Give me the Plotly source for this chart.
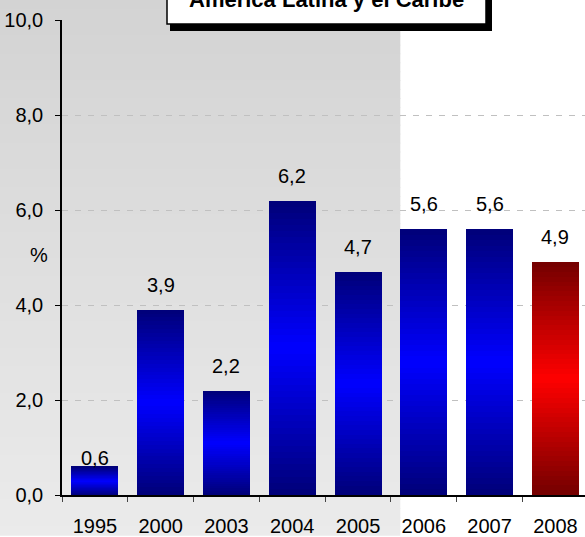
import plotly.graph_objects as go

years = ["1995", "2000", "2003", "2004", "2005", "2006", "2007", "2008"]
values = [0.6, 3.9, 2.2, 6.2, 4.7, 5.6, 5.6, 4.9]
value_labels = ["0,6", "3,9", "2,2", "6,2", "4,7", "5,6", "5,6", "4,9"]
y_tickvals = [0, 2, 4, 6, 8, 10]
y_ticktext = ["0,0", "2,0", "4,0", "6,0", "8,0", "10,0"]
title_text = "América Latina y el Caribe"
axis_title = "%"

FONT = "Liberation Sans, Arial, sans-serif"
W, H = 585, 537
ML, MR, MT, MB = 62, 0, 20, 40
PW, PH = W - ML - MR, H - MT - MB
XR = (-0.5, 7.45)
BARW = 0.715


def lerp(c1, c2, t):
    return tuple(int(round(a + (b - a) * t)) for a, b in zip(c1, c2))


def rgb(c):
    return "rgb(%d,%d,%d)" % c


blue_dark, blue_bright = (0, 0, 120), (0, 0, 255)
red_dark, red_bright = (115, 0, 0), (255, 0, 0)

fig = go.Figure()

N = 48
for k in range(N):
    t = (k + 0.5) / N
    m = 1 - abs(2 * t - 1)
    cols = []
    for yr in years:
        if yr == "2008":
            cols.append(rgb(lerp(red_dark, red_bright, m)))
        else:
            cols.append(rgb(lerp(blue_dark, blue_bright, m)))
    fig.add_trace(go.Bar(
        x=years, y=[v / N for v in values],
        marker=dict(color=cols, line=dict(width=0)),
        width=BARW, showlegend=False, hoverinfo="skip",
    ))


def px2paper_x(p):
    return (p - ML) / PW


def px2paper_y(p):
    return (H - MB - p) / PH

# background gradient (left part)
gray_x1 = (5 - BARW / 2 - XR[0]) / (XR[1] - XR[0])
gx0 = px2paper_x(0)
top_c, bot_c = (211, 211, 211), (235, 235, 235)
S = 60
for i in range(S):
    p0 = H * i / S
    p1 = H * (i + 1) / S + 0.8
    c = lerp(top_c, bot_c, (i + 0.5) / S)
    fig.add_shape(type="rect", xref="paper", yref="paper",
                  x0=gx0, x1=gray_x1, y0=px2paper_y(p1), y1=px2paper_y(p0),
                  fillcolor=rgb(c), line=dict(width=0), layer="below")

# title box with shadow
fig.add_shape(type="rect", xref="paper", yref="paper",
              x0=px2paper_x(170), x1=px2paper_x(492),
              y0=px2paper_y(31), y1=px2paper_y(-30),
              fillcolor="black", line=dict(width=0))
fig.add_shape(type="rect", xref="paper", yref="paper",
              x0=px2paper_x(167), x1=px2paper_x(486),
              y0=px2paper_y(24), y1=px2paper_y(-30),
              fillcolor="white", line=dict(color="black", width=1.5))
fig.add_annotation(text="<b>" + title_text + "</b>", xref="paper", yref="paper",
                   x=px2paper_x(326), y=px2paper_y(-1), showarrow=False,
                   xanchor="center", yanchor="middle",
                   font=dict(family=FONT, size=22, color="black"))

# value labels (x given as category serial number)
for i, (v, lab) in enumerate(zip(values, value_labels)):
    fig.add_annotation(x=i, y=v, xref="x", yref="y", text=lab, showarrow=False,
                       yanchor="middle", yshift=(9 if v < 1 else 25),
                       font=dict(family=FONT, size=20, color="black"))

# axis title
fig.add_annotation(text=axis_title, xref="paper", yref="paper",
                   x=px2paper_x(28), y=px2paper_y(256), showarrow=False,
                   font=dict(family=FONT, size=20, color="black"))

fig.update_layout(
    width=W, height=H,
    margin=dict(l=ML, r=MR, t=MT, b=MB, pad=0),
    paper_bgcolor="white", plot_bgcolor="rgba(0,0,0,0)",
    barmode="stack", bargap=1 - BARW,
    font=dict(family=FONT, size=20, color="black"),
    showlegend=False,
)
fig.update_xaxes(type="category", range=list(XR), showline=True, linecolor="black",
                 linewidth=1.5, ticks="outside", ticklen=5, tickcolor="#444",
                 tickson="boundaries", showgrid=False, zeroline=False,
                 tickfont=dict(family=FONT, size=20, color="black"),
                 ticklabelstandoff=12)
fig.update_yaxes(range=[0, 10], tickvals=y_tickvals, ticktext=y_ticktext,
                 showline=True, linecolor="black", linewidth=1.5,
                 ticks="outside", ticklen=5, tickcolor="black",
                 showgrid=True, gridcolor="#c0c0c0", griddash="6px,7px",
                 gridwidth=1, zeroline=False,
                 tickfont=dict(family=FONT, size=20, color="black"),
                 ticklabelstandoff=8)

fig.write_html("out.html", config={"displayModeBar": False},
               post_script="document.body.style.margin='0';")
